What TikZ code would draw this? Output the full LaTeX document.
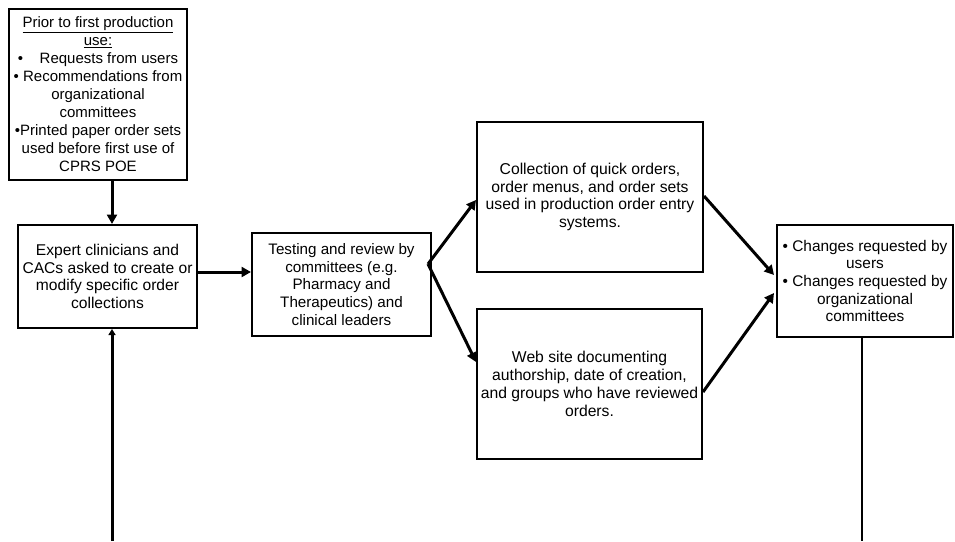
\documentclass[tikz,border=0pt]{standalone}
\usepackage{fontspec}
\setmainfont{Liberation Sans}
\usetikzlibrary{arrows.meta,calc}
\tikzset{
  box/.style={draw=black, line width=2pt, align=center, inner sep=0pt,
    font=\fontsize{15.3}{17.8}\selectfont},
  arr/.style={line width=3pt, -{Triangle[length=9.5pt,width=10pt]}},
  uparr/.style={line width=3pt, -{Triangle[length=6pt,width=7pt]}},
  plain/.style={line width=2pt},
}
\begin{document}
\begin{tikzpicture}[x=1pt,y=-1pt]
\useasboundingbox (0,0) rectangle (955,541);
\node[box, minimum width=178pt, minimum height=171pt, font=\fontsize{15}{18}\selectfont] (b1) at (98,94.5)
 {\underline{Prior to first production}\\ \underline{use:}\\
  \textbullet\hspace{1.1em}Requests from users\\
  \textbullet\ Recommendations from\\ organizational\\ committees\\
  \textbullet Printed paper order sets\\ used before first use of\\ CPRS POE};
\node[box, minimum width=179pt, minimum height=103pt, font=\fontsize{15.6}{17.8}\selectfont] (b2) at (107.5,276.5)
 {Expert clinicians and\\ CACs asked to create or\\ modify specific order\\ collections};
\node[box, minimum width=179pt, minimum height=103pt, font=\fontsize{15.2}{17.8}\selectfont] (b3) at (341.5,284.5)
 {Testing and review by\\ committees (e.g.\\ Pharmacy and\\ Therapeutics) and\\ clinical leaders};
\node[box, minimum width=226pt, minimum height=150pt, font=\fontsize{15.7}{17.8}\selectfont] (b4) at (590,197)
 {Collection of quick orders,\\ order menus, and order sets\\ used in production order entry\\ systems.};
\node[box, minimum width=225pt, minimum height=150pt, font=\fontsize{15.7}{17.8}\selectfont] (b5) at (589.5,384)
 {Web site documenting\\ authorship, date of creation,\\ and groups who have reviewed\\ orders.};
\node[box, minimum width=176pt, minimum height=112pt, font=\fontsize{15.4}{17.6}\selectfont] (b6) at (865,281)
 {\textbullet\ Changes requested by\\ users\\ \textbullet\ Changes requested by\\ organizational\\ committees};
\coordinate (e1) at (112,541);
\coordinate (e2) at (862,541);
\coordinate (f) at (428,264);
\draw[arr] (b1.south -| e1) -- (b2.north -| e1);
\draw[uparr] (e1) -- (b2.south -| e1);
\draw[arr] ([yshift=4.5pt]b2.east) -- ([yshift=4.5pt]b2.east -| b3.west);
\draw[arr] (f) -- ([yshift=-3pt]b4.west);
\draw[arr] (f) -- ([yshift=22pt]b5.west);
\draw[arr] ([yshift=1pt]b4.east) -- ([yshift=6pt,xshift=-2pt]b6.west);
\draw[arr] ([yshift=-8pt]b5.east) -- ([yshift=-12pt,xshift=-2pt]b6.west);
\draw[plain] (b6.south -| e2) -- (e2);
\end{tikzpicture}
\end{document}
